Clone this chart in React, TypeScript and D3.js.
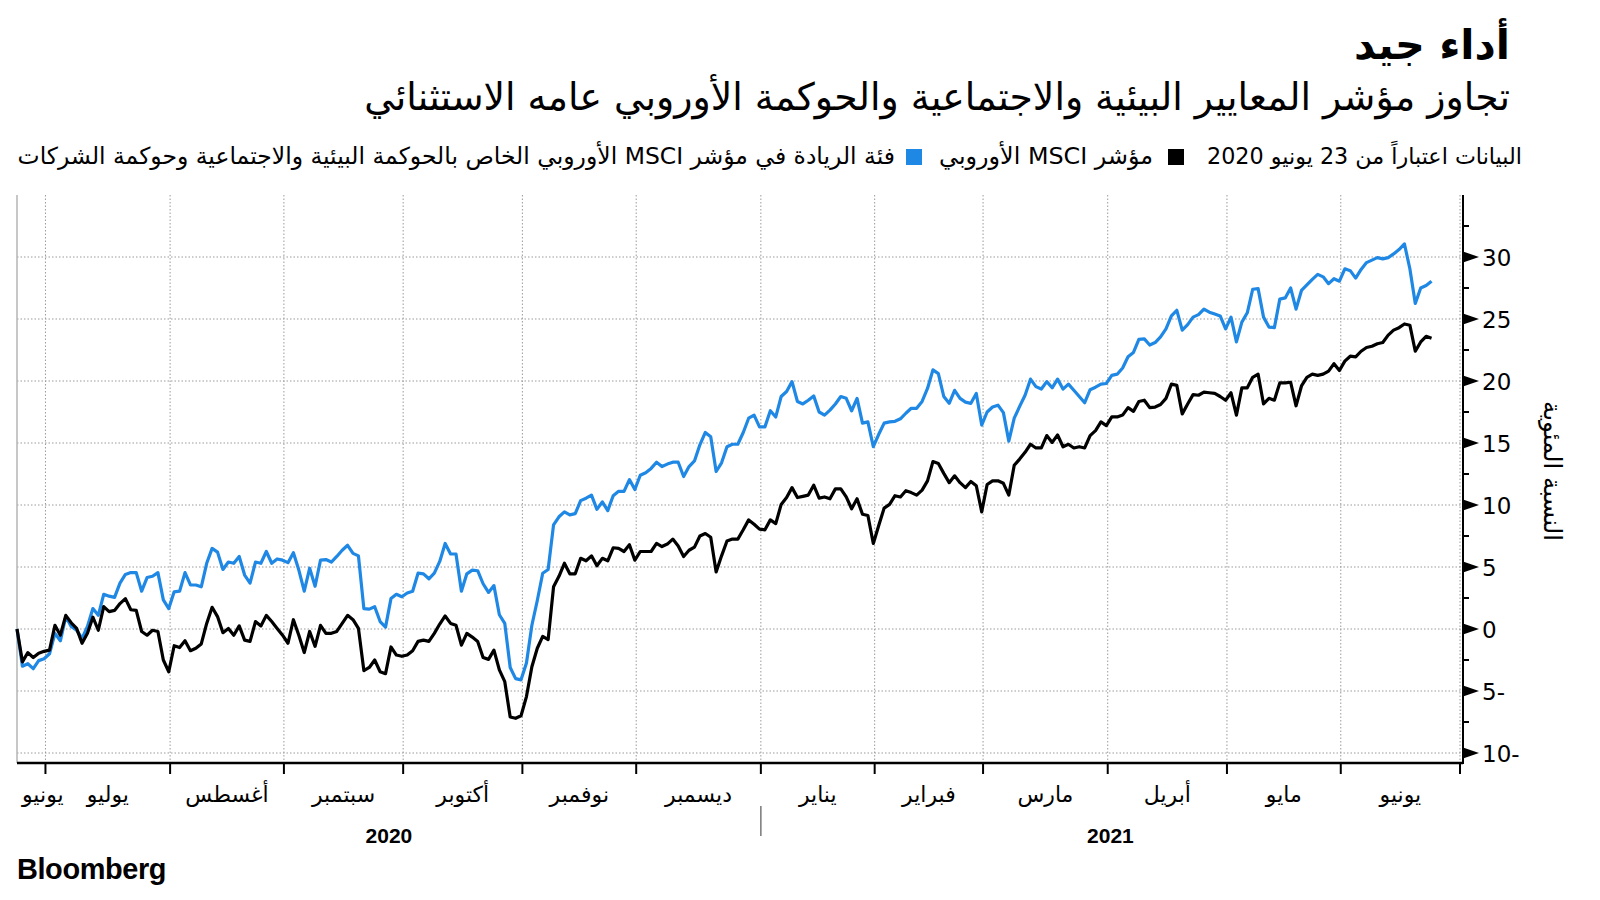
import React, { useRef, useState, useLayoutEffect } from "react";
import * as d3 from "d3";

// ---------- DATA ----------
// Daily (weekday) cumulative performance since 23 June 2020, percent
// MSCI Europe ESG Leaders (blue)
const esgLeaders: number[] = [
  // Jun 2020
  0, -3.0, -2.8, -3.2, -2.55, -2.4,
  // Jul
  -2.0, -0.35, -0.95, 1.0, 0.2, -0.1, -0.75, 0.2, 1.65, 1.1, 2.8, 2.65, 2.55, 3.7, 4.4, 4.55, 4.55, 3.05, 4.15, 4.25, 4.55, 2.35, 1.65,
  // Aug
  3.0, 3.05, 4.55, 3.55, 3.55, 3.4, 5.3, 6.5, 6.2, 4.8, 5.4, 5.3, 5.85, 4.35, 3.7, 5.4, 5.3, 6.25, 5.3, 5.65, 5.55,
  // Sep
  5.35, 6.15, 4.75, 3.05, 4.9, 3.45, 5.55, 5.6, 5.4, 5.85, 6.35, 6.75, 6.1, 5.9, 1.65, 1.6, 1.8, 0.6, 0.15, 2.45, 2.8, 2.6,
  // Oct
  2.9, 3.05, 4.5, 4.45, 4.05, 4.5, 5.45, 6.9, 6.05, 6.05, 3.05, 4.45, 4.75, 4.7, 3.65, 2.95, 3.5, 1.15, 0.45, -3.1, -4.0, -4.1,
  // Nov
  -2.75, 0.3, 2.3, 4.5, 4.8, 8.4, 9.05, 9.45, 9.2, 9.3, 10.35, 10.55, 10.8, 9.65, 10.25, 9.55, 10.75, 11.1, 11.1, 12.05, 11.25,
  // Dec
  12.4, 12.6, 12.95, 13.45, 13.1, 13.3, 13.45, 13.45, 12.3, 13.1, 13.55, 14.85, 15.85, 15.5, 12.7, 13.4, 14.7, 14.9, 14.9, 15.85, 17.0, 17.25, 16.3,
  // Jan 2021
  16.3, 17.6, 17.1, 18.75, 19.15, 19.95, 18.35, 18.15, 18.45, 18.8, 17.5, 17.25, 17.65, 18.15, 18.75, 18.6, 17.6, 18.6, 16.6, 16.7, 14.7,
  // Feb
  15.7, 16.6, 16.7, 16.75, 16.95, 17.4, 17.8, 17.8, 18.35, 19.4, 20.9, 20.6, 18.75, 18.2, 19.25, 18.6, 18.3, 18.2, 19.0, 16.45,
  // Mar
  17.5, 17.9, 18.05, 17.45, 15.15, 17.0, 17.95, 18.85, 20.15, 19.55, 19.35, 19.95, 19.45, 20.15, 19.35, 19.75, 19.25, 18.75, 18.25, 19.3, 19.5, 19.75, 19.8,
  // Apr
  20.45, 20.55, 21.05, 21.95, 22.3, 23.35, 23.4, 22.9, 23.1, 23.55, 24.2, 25.25, 25.7, 24.1, 24.55, 25.15, 25.35, 25.8, 25.55, 25.4, 25.25, 24.2,
  // May
  25.15, 23.15, 24.75, 25.5, 27.4, 27.45, 25.15, 24.35, 24.3, 26.6, 26.7, 27.5, 25.8, 27.3, 27.75, 28.2, 28.6, 28.4, 27.85, 28.25, 28.05,
  // Jun 2021
  29.05, 28.9, 28.3, 29.0, 29.55, 29.75, 29.95, 29.85, 29.95, 30.25, 30.6, 31.05, 29.05, 26.25, 27.5, 27.7, 28.05,
];

// MSCI Europe (black)
const msciEurope: number[] = [
  // Jun 2020
  0, -2.65, -1.9, -2.3, -1.95, -1.8,
  // Jul
  -1.7, 0.3, -0.5, 1.1, 0.5, 0.05, -1.15, -0.35, 0.95, -0.1, 1.8, 1.4, 1.5, 2.05, 2.45, 1.55, 1.5, -0.2, -0.5, -0.1, -0.2, -2.5, -3.45,
  // Aug
  -1.35, -1.5, -0.95, -1.75, -1.55, -1.2, 0.45, 1.75, 1.0, -0.3, 0.05, -0.5, 0.25, -0.9, -1.0, 0.6, 0.25, 1.1, 0.6, 0.05, -0.5,
  // Sep
  -1.15, 0.75, -0.5, -1.9, -0.2, -1.4, 0.3, -0.35, -0.35, -0.2, 0.45, 1.1, 0.75, 0.05, -3.35, -3.1, -2.5, -3.45, -3.6, -1.45, -2.1, -2.2,
  // Oct
  -2.1, -1.75, -1.0, -0.9, -1.0, -0.35, 0.4, 1.05, 0.45, 0.3, -1.3, -0.35, -0.65, -1.0, -2.3, -2.45, -1.7, -3.3, -4.25, -7.1, -7.2, -7.0,
  // Nov
  -5.45, -3.05, -1.55, -0.6, -0.85, 3.4, 4.25, 5.3, 4.45, 4.45, 5.7, 5.5, 5.9, 5.1, 5.7, 5.5, 6.55, 6.5, 6.25, 6.8, 5.55,
  // Dec
  6.25, 6.25, 6.25, 6.9, 6.65, 6.85, 7.25, 6.7, 5.85, 6.35, 6.6, 7.5, 7.7, 7.4, 4.6, 5.9, 7.1, 7.25, 7.25, 8.0, 8.8, 8.45, 8.05,
  // Jan 2021
  8.0, 8.8, 8.5, 10.05, 10.6, 11.4, 10.6, 10.7, 10.8, 11.6, 10.55, 10.65, 10.5, 11.3, 11.3, 10.65, 9.7, 10.5, 9.25, 9.15, 6.9,
  // Feb
  8.35, 9.75, 10.05, 10.75, 10.65, 11.15, 11.0, 10.8, 11.2, 11.95, 13.5, 13.35, 12.55, 11.8, 12.35, 11.8, 11.4, 11.9, 11.55, 9.45,
  // Mar
  11.65, 11.95, 11.95, 11.75, 10.8, 13.2, 13.7, 14.25, 14.9, 14.6, 14.6, 15.6, 15.05, 15.65, 14.7, 14.9, 14.6, 14.7, 14.6, 15.6, 16.0, 16.7, 16.4,
  // Apr
  17.1, 17.1, 17.25, 17.85, 17.55, 18.35, 18.45, 17.85, 17.9, 18.1, 18.6, 19.75, 19.65, 17.35, 18.15, 18.9, 18.85, 19.1, 19.05, 19.0, 18.75, 18.45,
  // May
  19.05, 17.25, 19.45, 19.45, 20.3, 20.55, 18.15, 18.6, 18.45, 19.85, 19.85, 19.9, 18.0, 19.6, 20.3, 20.55, 20.45, 20.55, 20.8, 21.4, 20.85,
  // Jun 2021
  21.6, 22.0, 21.95, 22.4, 22.7, 22.8, 23.0, 23.1, 23.7, 24.1, 24.3, 24.6, 24.5, 22.4, 23.15, 23.6, 23.45,
];

const monthLabels = ["يونيو", "يوليو", "أغسطس", "سبتمبر", "أكتوبر", "نوفمبر", "ديسمبر", "يناير", "فبراير", "مارس", "أبريل", "مايو", "يونيو"];
const yearLabels = ["2020", "2021"];
const yTicks = [-10, -5, 0, 5, 10, 15, 20, 25, 30];
const yMinorTicks = [-7.5, -2.5, 2.5, 7.5, 12.5, 17.5, 22.5, 27.5, 32.5];

const titleText = "أداء جيد";
const subtitleText = "تجاوز مؤشر المعايير البيئية والاجتماعية والحوكمة الأوروبي عامه الاستثنائي";
const noteText = "البيانات اعتباراً من 23 يونيو 2020";
const legendBlack = "مؤشر MSCI الأوروبي";
const legendBlue = "فئة الريادة في مؤشر MSCI الأوروبي الخاص بالحوكمة البيئية والاجتماعية وحوكمة الشركات";
const yTitle = "النسبة المئوية";

// weekday calendar from 23 Jun 2020 to 1 Jul 2021
const allDates: Date[] = [];
for (let d = new Date(2020, 5, 23); d <= new Date(2021, 6, 1); d.setDate(d.getDate() + 1)) {
  const wd = d.getDay();
  if (wd !== 0 && wd !== 6) allDates.push(new Date(d));
}
const monthStarts: number[] = [];
for (let i = 1; i < allDates.length; i++) {
  if (allDates[i].getMonth() !== allDates[i - 1].getMonth()) monthStarts.push(i);
}

const BLUE = "#1f88e5";
const AR = "'DejaVu Sans', 'Noto Sans', sans-serif";

function FitText({ width, base, children, ...rest }: any) {
  const ref = useRef<SVGTextElement>(null);
  const [size, setSize] = useState<number>(base);
  useLayoutEffect(() => {
    const el = ref.current;
    if (!el) return;
    const w = el.getComputedTextLength();
    if (w > 0) setSize(base * width / w);
  }, [base, width]);
  return (
    <text ref={ref} fontSize={size} {...rest}>
      {children}
    </text>
  );
}

export default function App() {
  const left = 17;
  const axisX = 1463;
  const top = 195;
  const bottom = 763;

  const tickPos = (k: number) => k - 0.75;
  const x = d3.scaleLinear().domain([0, tickPos(monthStarts[monthStarts.length - 1])]).range([17, 1460]);
  const y = d3.scaleLinear().domain([-10, 30]).range([753, 257]);

  const line = d3
    .line<number>()
    .x((_, i) => x(i))
    .y((v) => y(v));

  const tickXs = monthStarts.map((k) => x(tickPos(k)));
  const bounds = [x(0), ...tickXs];

  return (
    <svg width={1600} height={900} style={{ display: "block", position: "absolute", left: 0, top: 0, background: "#fff" }}>
      {/* Title */}
      <FitText x={1510} y={59} width={156} base={44} fontFamily={AR} fontWeight={700} direction="rtl" textAnchor="start" fill="#000">
        {titleText}
      </FitText>
      <FitText x={1510} y={110} width={1146} base={30} fontFamily={AR} direction="rtl" textAnchor="start" fill="#000">
        {subtitleText}
      </FitText>

      {/* Legend */}
      <FitText x={1522} y={164} width={315} base={20} fontFamily={AR} direction="rtl" textAnchor="start" fill="#000">
        {noteText}
      </FitText>
      <rect x={1168} y={149} width={16} height={16} fill="#000" />
      <FitText x={1153} y={164} width={214} base={20} fontFamily={AR} direction="rtl" textAnchor="start" fill="#000">
        {legendBlack}
      </FitText>
      <rect x={906} y={149} width={16} height={16} fill={BLUE} />
      <FitText x={895} y={164} width={878} base={20} fontFamily={AR} direction="rtl" textAnchor="start" fill="#000">
        {legendBlue}
      </FitText>

      {/* Grid */}
      <g stroke="#9a9a9a" strokeWidth={1} strokeDasharray="1.5 2">
        {yTicks.map((t) => (
          <line key={"h" + t} x1={left} x2={axisX} y1={y(t)} y2={y(t)} />
        ))}
        {tickXs.map((tx, i) => (
          <line key={"v" + i} x1={tx} x2={tx} y1={top} y2={bottom} />
        ))}
      </g>
      <line x1={left} x2={left} y1={top} y2={bottom} stroke="#b5b5b5" strokeWidth={1.5} />

      {/* Lines */}
      <path d={line(esgLeaders) || ""} fill="none" stroke={BLUE} strokeWidth={3.2} strokeLinejoin="round" />
      <path d={line(msciEurope) || ""} fill="none" stroke="#000" strokeWidth={3.2} strokeLinejoin="round" />

      {/* X axis */}
      <line x1={left} x2={axisX} y1={bottom} y2={bottom} stroke="#000" strokeWidth={2.5} />
      {tickXs.map((tx, i) => (
        <line key={"xt" + i} x1={tx} x2={tx} y1={bottom} y2={bottom + 11} stroke="#000" strokeWidth={2} />
      ))}
      {monthLabels.map((m, i) => {
        if (i === 0) {
          return (
            <text key={"m" + i} x={22} y={802} fontFamily={AR} fontSize={22} direction="ltr" textAnchor="start" fill="#000">
              {m}
            </text>
          );
        }
        const cx = (bounds[i] + bounds[i + 1]) / 2;
        return (
          <text key={"m" + i} x={cx} y={802} fontFamily={AR} fontSize={22} textAnchor="middle" fill="#000">
            {m}
          </text>
        );
      })}
      {/* Year labels */}
      <text x={(x(0) + tickXs[6]) / 2} y={843} fontFamily="'Liberation Sans', Arial, sans-serif" fontWeight={700} fontSize={21} textAnchor="middle" fill="#000">
        {yearLabels[0]}
      </text>
      <text x={(tickXs[6] + tickXs[12]) / 2} y={843} fontFamily="'Liberation Sans', Arial, sans-serif" fontWeight={700} fontSize={21} textAnchor="middle" fill="#000">
        {yearLabels[1]}
      </text>
      <line x1={tickXs[6]} x2={tickXs[6]} y1={806} y2={836} stroke="#777" strokeWidth={1.5} />

      {/* Y axis */}
      <line x1={axisX} x2={axisX} y1={top} y2={bottom + 1} stroke="#000" strokeWidth={2} />
      {yTicks.map((t) => (
        <g key={"yt" + t}>
          <path d={`M${axisX},${y(t) - 5.5}L${axisX + 16},${y(t)}L${axisX},${y(t) + 5.5}Z`} fill="#000" />
          <text x={1482} y={y(t) + 8.5} fontFamily="'DejaVu Sans', sans-serif" fontSize={23} fill="#000">
            {t < 0 ? `${-t}-` : `${t}`}
          </text>
        </g>
      ))}
      {yMinorTicks.map((t) => (
        <line key={"ym" + t} x1={axisX} x2={axisX + 6} y1={y(t)} y2={y(t)} stroke="#000" strokeWidth={2} />
      ))}
      <g transform="translate(1551,471) rotate(90)">
        <FitText x={0} y={7} width={140} base={21} fontFamily={AR} textAnchor="middle" fill="#000">
          {yTitle}
        </FitText>
      </g>

      {/* Source */}
      <FitText x={17} y={879} width={149} base={28} fontFamily="'Liberation Sans', Arial, sans-serif" fontWeight={700} letterSpacing={-0.4} fill="#000">
        Bloomberg
      </FitText>
    </svg>
  );
}
